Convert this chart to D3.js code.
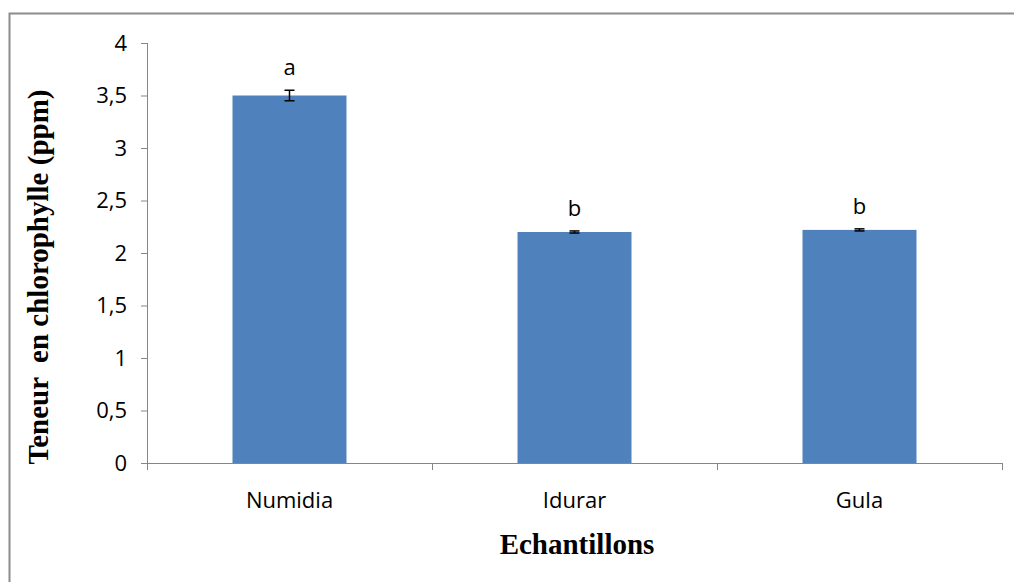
<!DOCTYPE html>
<meta charset="utf-8">
<style>
  body { margin: 0; background: #fff; }
  svg { display: block; }
</style>
<svg width="1014" height="582"></svg>
<script src="https://cdn.jsdelivr.net/npm/d3@7"></script>
<script>

// values
var categories = ["Numidia", "Idurar", "Gula"];
var means = [3.5, 2.2, 2.22];
var errors = [0.05, 0.01, 0.01];
var letters = ["a", "b", "b"];
var yTicks = [0, 0.5, 1, 1.5, 2, 2.5, 3, 3.5, 4];

var svg = d3.select("svg");
var axisColor = "#868686";

// outer frame (only top and left edges show in the picture)
svg.append("path")
    .attr("d", "M9.5,582V13.5H1014")
    .attr("fill", "none")
    .attr("stroke", "#8c8c8c")
    .attr("stroke-width", 2);

var plotLeft = 147, plotRight = 1002, plotTop = 43, plotBottom = 463;

var x = d3.scaleBand()
    .domain(categories)
    .range([plotLeft, plotRight])
    .paddingInner(0.6)
    .paddingOuter(0.3);

var y = d3.scaleLinear()
    .domain([0, 4])
    .range([plotBottom, plotTop]);

var fmt = function (d) { return String(d).replace(".", ","); };

// bars
svg.append("g")
  .selectAll("rect")
  .data(categories)
  .enter().append("rect")
    .attr("x", function (d) { return x(d); })
    .attr("width", x.bandwidth())
    .attr("y", function (d, i) { return y(means[i]); })
    .attr("height", function (d, i) { return plotBottom - y(means[i]); })
    .attr("fill", "#4f81bd");

// y axis
var yAxis = svg.append("g")
    .attr("transform", "translate(" + plotLeft + ",0)")
    .call(d3.axisLeft(y).tickValues(yTicks).tickFormat(fmt).tickSize(6).tickPadding(14));
yAxis.select(".domain").attr("stroke", axisColor).attr("d", "M0.5," + plotTop + "V" + plotBottom);
yAxis.selectAll(".tick line").attr("stroke", axisColor);
yAxis.selectAll(".tick text")
    .attr("fill", "#000")
    .style("font-family", "'Open Sans', sans-serif")
    .style("font-size", "22px");

// x axis: ticks on the category boundaries
var step = x.step();
var bounds = [plotLeft, plotLeft + step, plotLeft + 2 * step, plotRight];
var xg = svg.append("g");
xg.append("line")
    .attr("x1", plotLeft - 6).attr("x2", plotRight)
    .attr("y1", plotBottom + 0.5).attr("y2", plotBottom + 0.5)
    .attr("stroke", axisColor);
xg.selectAll(".b")
  .data(bounds)
  .enter().append("line")
    .attr("x1", function (d) { return Math.round(d) + 0.5; })
    .attr("x2", function (d) { return Math.round(d) + 0.5; })
    .attr("y1", plotBottom).attr("y2", plotBottom + 7)
    .attr("stroke", axisColor);
xg.selectAll("text")
  .data(categories)
  .enter().append("text")
    .attr("x", function (d) { return x(d) + x.bandwidth() / 2; })
    .attr("y", plotBottom + 45)
    .attr("text-anchor", "middle")
    .style("font-family", "'Open Sans', sans-serif")
    .style("font-size", "22px")
    .text(function (d) { return d; });

// error bars
var eb = svg.append("g").attr("stroke", "#000").attr("stroke-width", 1.5);
categories.forEach(function (c, i) {
  var cx = x(c) + x.bandwidth() / 2;
  var y1 = y(means[i] + errors[i]), y2 = y(means[i] - errors[i]);
  eb.append("line").attr("x1", cx).attr("x2", cx).attr("y1", y1).attr("y2", y2);
  eb.append("line").attr("x1", cx - 5).attr("x2", cx + 5).attr("y1", y1).attr("y2", y1);
  eb.append("line").attr("x1", cx - 5).attr("x2", cx + 5).attr("y1", y2).attr("y2", y2);
});

// significance letters
svg.append("g")
  .selectAll("text")
  .data(categories)
  .enter().append("text")
    .attr("x", function (d) { return x(d) + x.bandwidth() / 2; })
    .attr("y", function (d, i) { return y(means[i] + errors[i]) - 15; })
    .attr("text-anchor", "middle")
    .style("font-family", "'Open Sans', sans-serif")
    .style("font-size", "22px")
    .text(function (d, i) { return letters[i]; });

// axis titles
svg.append("text")
    .attr("transform", "translate(48," + 277 + ") rotate(-90)")
    .attr("text-anchor", "middle")
    .style("font-family", "'Liberation Serif', serif")
    .style("font-weight", "bold")
    .style("font-size", "29px")
    .style("white-space", "pre")
    .text("Teneur  en chlorophylle (ppm)");

svg.append("text")
    .attr("x", 577)
    .attr("y", 554)
    .attr("text-anchor", "middle")
    .style("font-family", "'Liberation Serif', serif")
    .style("font-weight", "bold")
    .style("font-size", "29px")
    .text("Echantillons");

</script>
